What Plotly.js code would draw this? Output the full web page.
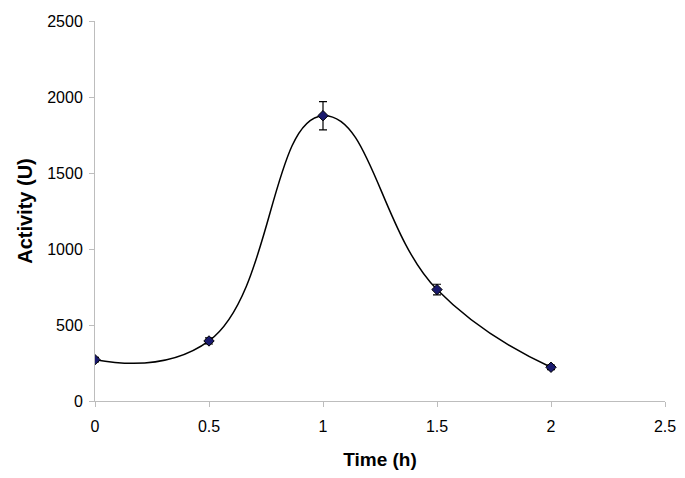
<!DOCTYPE html>
<html>
<head>
<meta charset="utf-8">
<script src="https://cdn.plot.ly/plotly-3.0.1.min.js"></script>
<style>
  html, body { margin: 0; padding: 0; background: #fff; }
  #plot { width: 685px; height: 478px; }
</style>
</head>
<body>
<div id="plot"></div>
<script>
// Activity over time
const timeH = [0, 0.5, 1, 1.5, 2];
const activity = [272, 395, 1877, 733, 222];
const activityErr = [15, 20, 93, 35, 15];
const xTicks = [0, 0.5, 1, 1.5, 2, 2.5];
const yTicks = [0, 500, 1000, 1500, 2000, 2500];

const font = 'Liberation Sans, Arial, sans-serif';

Plotly.newPlot(
  document.getElementById('plot'),
  [
    {
      x: timeH,
      y: activity,
      mode: 'lines+markers',
      line: { color: '#000', width: 1.5, shape: 'spline', smoothing: 1.3 },
      marker: { symbol: 'diamond', size: 8, color: '#1a1a6e', line: { color: '#000', width: 1 } },
      error_y: { type: 'data', array: activityErr, visible: true, color: '#000', thickness: 1.2, width: 4 },
      showlegend: false,
    }
  ],
  {
    width: 685,
    height: 478,
    margin: { l: 95, r: 20, t: 21, b: 77 },
    paper_bgcolor: '#fff',
    plot_bgcolor: '#fff',
    font: { family: font, size: 16, color: '#000' },
    xaxis: {
      range: [0, 2.5],
      tickvals: xTicks,
      ticktext: xTicks.map(String),
      showgrid: false,
      zeroline: false,
      showline: true,
      linecolor: '#bdbdbd',
      linewidth: 1,
      ticks: 'outside',
      ticklen: 5,
      tickcolor: '#bdbdbd',
      ticklabelstandoff: 6,
      title: { text: '<b>Time (h)</b>', font: { size: 19 }, standoff: 18 },
    },
    yaxis: {
      range: [0, 2500],
      tickvals: yTicks,
      showgrid: false,
      zeroline: false,
      showline: true,
      linecolor: '#bdbdbd',
      linewidth: 1,
      ticks: 'outside',
      ticklen: 5,
      tickcolor: '#bdbdbd',
      ticklabelstandoff: 3,
      title: { text: '<b>Activity (U)</b>', font: { size: 20 }, standoff: 9 },
    },
  },
  { displayModeBar: false, staticPlot: true }
);
</script>
</body>
</html>
